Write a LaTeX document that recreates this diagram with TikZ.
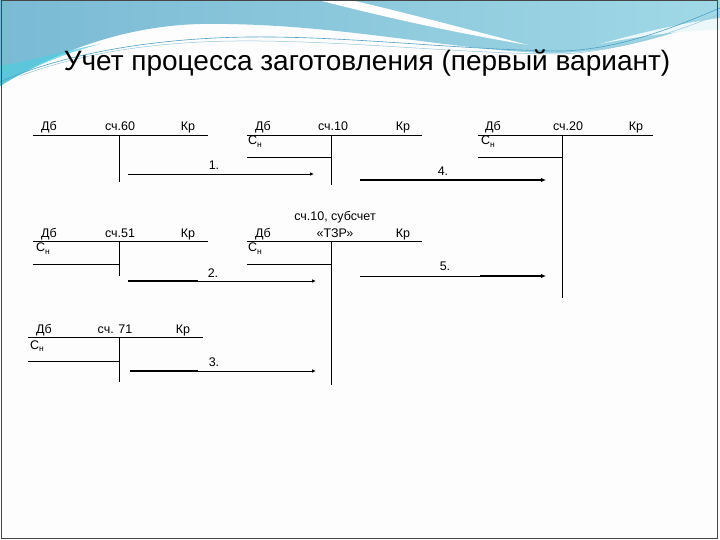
\documentclass[tikz,border=0pt]{standalone}
\usepackage{fontspec}
\setmainfont{Liberation Sans}
\usetikzlibrary{arrows.meta}
\definecolor{bluetop}{RGB}{122,186,212}
\definecolor{blueright}{RGB}{160,216,230}
\definecolor{cyanlow}{RGB}{80,204,222}
\definecolor{decoline}{RGB}{80,160,195}
\definecolor{framec}{RGB}{70,70,70}
\definecolor{pagebg}{RGB}{253,253,253}
\tikzset{
  acct/.style={line width=0.8bp, black},
  lbl/.style={anchor=base, inner sep=0pt, font=\fontsize{12.5bp}{14bp}\selectfont},
  lblw/.style={anchor=base west, inner sep=0pt, font=\fontsize{12.5bp}{14bp}\selectfont},
  thinarrow/.style={line width=0.8bp, -{Latex[length=4bp,width=3.5bp]}},
  thickseg/.style={line width=2bp},
  thickarrow/.style={line width=2bp, -{Latex[length=5bp,width=4.5bp]}},
}
\newcommand{\Cn}{С\raisebox{-0.4ex}{\fontsize{8.5bp}{9bp}\selectfont н}}
\begin{document}
\begin{tikzpicture}[x=1bp,y=-1bp]
\useasboundingbox (0,0) rectangle (720,540);
\fill[pagebg] (0,0) rectangle (720,540);
% banner
\shade[left color=bluetop, right color=blueright]
  (0,0) -- (720,0) -- (720,18) .. controls (660,38) and (610,54) .. (545,53)
  .. controls (450,50) and (330,22) .. (200,24)
  .. controls (120,26) and (50,55) .. (0,86) -- cycle;
\fill[cyanlow, opacity=0.7] (0,86) .. controls (30,68) and (60,55) .. (100,44)
  .. controls (60,52) and (25,62) .. (0,66) -- cycle;
\fill[white] (318,0) .. controls (380,16) and (450,32) .. (528,45)
  .. controls (455,26) and (395,10) .. (350,0) -- cycle;
\fill[white!80!blueright] (720,18) .. controls (690,22) and (650,30) .. (600,44)
  .. controls (650,34) and (690,30) .. (720,30) -- cycle;
\draw[decoline, line width=0.6bp] (0,82) .. controls (60,55) and (150,38) .. (250,37)
  .. controls (350,36) and (460,50) .. (560,51) .. controls (620,50) and (680,25) .. (720,8);
\draw[decoline!60, line width=0.5bp] (20,76) .. controls (90,50) and (170,40) .. (260,41)
  .. controls (360,42) and (470,54) .. (560,54) .. controls (620,52) and (680,30) .. (720,14);
% frame
\draw[framec, line width=1bp] (1,0.5) rectangle (717,538.5);
% title
\node[anchor=base, inner sep=0pt, font=\fontsize{28bp}{32bp}\selectfont] (title) at (367,71)
  {Учет процесса заготовления (первый вариант)};

% account 60
\draw[acct] (33,135) -- (208,135);
\draw[acct] (119,135) -- (119,182);
\node[lbl] (a60d) at (49,131) {Дб};
\node[lbl] (a60n) at (120,131) {сч.60};
\node[lbl] (a60k) at (188,131) {Кр};

% account 10
\draw[acct] (247,135) -- (422,135);
\draw[acct] (331,135) -- (331,185);
\draw[acct] (247,157) -- (331,157);
\node[lbl] (a10d) at (263,131) {Дб};
\node[lbl] (a10n) at (333,131) {сч.10};
\node[lbl] (a10k) at (403,131) {Кр};
\node[lblw] (a10s) at (248,145) {\Cn};

% account 20
\draw[acct] (478,135) -- (653,135);
\draw[acct] (562,135) -- (562,298);
\draw[acct] (478,157) -- (562,157);
\node[lbl] (a20d) at (493,131) {Дб};
\node[lbl] (a20n) at (568,131) {сч.20};
\node[lbl] (a20k) at (636,131) {Кр};
\node[lblw] (a20s) at (481,145) {\Cn};

% account 51
\draw[acct] (33,241) -- (208,241);
\draw[acct] (119,241) -- (119,276);
\draw[acct] (33,264) -- (119,264);
\node[lbl] (a51d) at (49,237.5) {Дб};
\node[lbl] (a51n) at (120,237.5) {сч.51};
\node[lbl] (a51k) at (188,237.5) {Кр};
\node[lblw] (a51s) at (36,252) {\Cn};

% account 10 TZR
\draw[acct] (247,241) -- (422,241);
\draw[acct] (331,241) -- (331,385);
\draw[acct] (247,264) -- (331,264);
\node[lbl] (atzt) at (335,220.5) {сч.10, субсчет};
\node[lbl] (atzn) at (335,237.5) {«ТЗР»};
\node[lbl] (atzd) at (263,237.5) {Дб};
\node[lbl] (atzk) at (403,237.5) {Кр};
\node[lblw] (atzs) at (248,252) {\Cn};

% account 71
\draw[acct] (28,337) -- (203,337);
\draw[acct] (119,337) -- (119,382);
\draw[acct] (28,361) -- (119,361);
\node[lbl] (a71d) at (44,333) {Дб};
\node[lbl] (a71n) at (115,333) {сч. 71};
\node[lbl] (a71k) at (183,333) {Кр};
\node[lblw] (a71s) at (30,349) {\Cn};

% arrows
\coordinate (p1s) at (128,174); \coordinate (p1e) at (314,174);
\draw[thinarrow] (p1s) -- (p1e);
\node[lbl] (n1) at (214,170) {1.};

\coordinate (p4s) at (360,180); \coordinate (p4e) at (546,180);
\draw[thickarrow] (p4s) -- (p4e);
\node[lbl] (n4) at (443,175.5) {4.};

\coordinate (p2s) at (128,281); \coordinate (p2m) at (198,281); \coordinate (p2e) at (316,281);
\draw[thickseg] (p2s) -- (p2m);
\draw[thinarrow] (p2m) -- (p2e);
\node[lbl] (n2) at (213,278) {2.};

\coordinate (p5s) at (360,276); \coordinate (p5m) at (480,276); \coordinate (p5e) at (546,276);
\draw[acct] (p5s) -- (p5m);
\draw[thickarrow] (p5m) -- (p5e);
\node[lbl] (n5) at (445,270.5) {5.};

\coordinate (p3s) at (130,371); \coordinate (p3m) at (198,371); \coordinate (p3e) at (316,371);
\draw[thickseg] (p3s) -- (p3m);
\draw[thinarrow] (p3m) -- (p3e);
\node[lbl] (n3) at (214,366) {3.};
\end{tikzpicture}
\end{document}
